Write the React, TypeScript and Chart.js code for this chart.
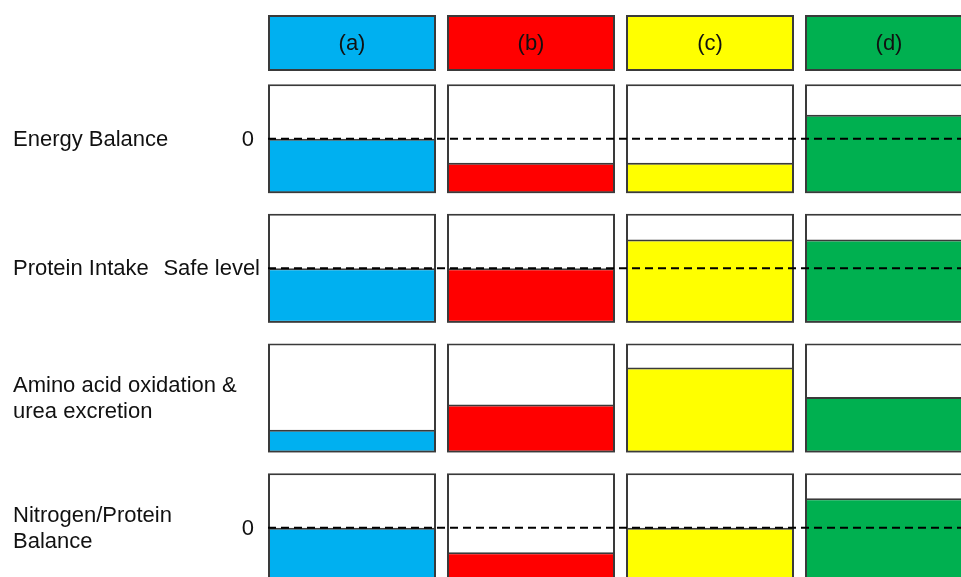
import React, { useEffect, useRef } from "react";
import { Chart, registerables } from "chart.js";

Chart.register(...registerables);

// ---- Data ----
const COLUMNS = ["(a)", "(b)", "(c)", "(d)"];
const COLUMN_COLORS = ["#00B0F0", "#FF0000", "#FFFF00", "#00B050"];
const ROW_LABELS = [
  ["Energy Balance"],
  ["Protein Intake"],
  ["Amino acid oxidation &", "urea excretion"],
  ["Nitrogen/Protein", "Balance"],
];
const REF_LABELS = ["0", "Safe level", "", "0"];
const REF_LEVELS: (number | null)[] = [0.5, 0.5, null, 0.5];
const energyBalance = [0.5, 0.28, 0.28, 0.72];
const proteinIntake = [0.5, 0.5, 0.765, 0.765];
const aminoAcidOxidation = [0.21, 0.44, 0.78, 0.51];
const nitrogenBalance = [0.5, 0.275, 0.5, 0.77];
const ROW_VALUES = [energyBalance, proteinIntake, aminoAcidOxidation, nitrogenBalance];

// ---- Layout (units: one panel = 1) ----
const ROW_GAP = 0.19;
const HEADER_GAP = 0.12;
const HEADER_H = 0.515;
const Y_MIN = 0.0486;
const Y_MAX = 5.342;
const REF_LABEL_RIGHT = [254, 260, 260, 254];
const FONT = "22px 'Liberation Sans', Arial, sans-serif";
const TEXT_COLOR = "#111111";
const BORDER = "#3a3a3a";
const BORDER_W = 2;

const rowBase = (i: number) => (ROW_VALUES.length - 1 - i) * (1 + ROW_GAP);
const headerBase = rowBase(0) + 1 + HEADER_GAP;

export default function App() {
  const ref = useRef<HTMLCanvasElement | null>(null);

  useEffect(() => {
    if (!ref.current) return;
    const datasets: any[] = [];
    // header boxes
    datasets.push({
      label: "header",
      data: COLUMNS.map(() => [headerBase, headerBase + HEADER_H]),
      backgroundColor: COLUMN_COLORS,
      borderColor: BORDER,
      borderWidth: BORDER_W,
      borderSkipped: false,
      order: 3,
    });
    ROW_VALUES.forEach((vals, i) => {
      const b = rowBase(i);
      datasets.push({
        label: "panel" + i,
        data: vals.map(() => [b, b + 1]),
        backgroundColor: "#ffffff",
        borderColor: BORDER,
        borderWidth: BORDER_W,
        borderSkipped: false,
        order: 3,
      });
      datasets.push({
        label: "value" + i,
        data: vals.map((v) => [b, b + v]),
        backgroundColor: COLUMN_COLORS,
        borderColor: BORDER,
        borderWidth: BORDER_W,
        borderSkipped: false,
        order: 2,
      });
    });

    const overlay = {
      id: "overlay",
      afterDatasetsDraw(chart: any) {
        const ctx = chart.ctx as CanvasRenderingContext2D;
        const y = chart.scales.y;
        const firstBar = chart.getDatasetMeta(0).data[0];
        const left = firstBar.x - firstBar.width / 2;
        ctx.save();
        // dashed reference lines
        ctx.strokeStyle = "#000000";
        ctx.lineWidth = 2;
        ctx.setLineDash([8, 5]);
        REF_LEVELS.forEach((lvl, i) => {
          if (lvl === null) return;
          const py = y.getPixelForValue(rowBase(i) + lvl);
          ctx.beginPath();
          ctx.moveTo(left, py);
          ctx.lineTo(chart.width, py);
          ctx.stroke();
        });
        ctx.setLineDash([]);
        // texts
        ctx.font = FONT;
        ctx.fillStyle = TEXT_COLOR;
        ctx.textBaseline = "middle";
        // headers
        ctx.textAlign = "center";
        const hy = y.getPixelForValue(headerBase + HEADER_H / 2);
        chart.getDatasetMeta(0).data.forEach((bar: any, j: number) => {
          ctx.fillText(COLUMNS[j], bar.x, hy + 1);
        });
        // row labels
        ctx.textAlign = "left";
        ROW_LABELS.forEach((lines, i) => {
          const cy = y.getPixelForValue(rowBase(i) + 0.5);
          const lh = 26;
          lines.forEach((t, k) => {
            ctx.fillText(t, 13, cy + 1 + (k - (lines.length - 1) / 2) * lh);
          });
        });
        ctx.textAlign = "right";
        REF_LABELS.forEach((t, i) => {
          const lvl = REF_LEVELS[i];
          if (!t || lvl === null) return;
          const py = y.getPixelForValue(rowBase(i) + lvl);
          ctx.fillText(t, REF_LABEL_RIGHT[i], py + 1);
        });
        ctx.restore();
      },
    };

    const chart = new Chart(ref.current, {
      type: "bar",
      data: { labels: COLUMNS, datasets },
      options: {
        animation: false,
        responsive: false,
        devicePixelRatio: 1,
        events: [],
        layout: { padding: { left: 262.5, right: 11.5, top: 0, bottom: 0 } },
        plugins: { legend: { display: false }, tooltip: { enabled: false } },
        datasets: { bar: { grouped: false, categoryPercentage: 1, barPercentage: 168 / 179 } },
        scales: {
          x: { type: "category", display: false, offset: true },
          y: { type: "linear", display: false, min: Y_MIN, max: Y_MAX },
        },
      } as any,
      plugins: [overlay],
    });
    return () => chart.destroy();
  }, []);

  return (
    <div
      style={{
        position: "absolute",
        left: 0,
        top: 0,
        width: 961,
        height: 577,
        overflow: "hidden",
        background: "#ffffff",
      }}
    >
      <canvas ref={ref} width={990} height={577} style={{ width: 990, height: 577, display: "block" }} />
    </div>
  );
}
